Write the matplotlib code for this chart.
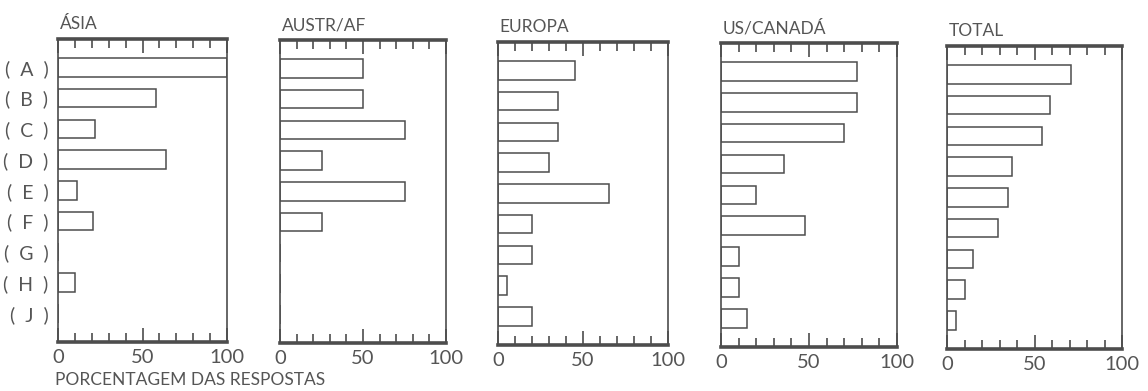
import matplotlib
matplotlib.use("Agg")
import matplotlib.pyplot as plt
from matplotlib.ticker import FixedLocator

# Share of responses per item (A..J), by region
categories = ["A", "B", "C", "D", "E", "F", "G", "H", "J"]
regions = ["ÁSIA", "AUSTR/AF", "EUROPA", "US/CANADÁ", "TOTAL"]

asia = [100, 58, 22, 64, 11, 21, 0, 10, 0]
austr_af = [50, 50, 75, 25, 75, 25, 0, 0, 0]
europa = [45, 35, 35, 30, 65, 20, 20, 5, 20]
us_canada = [77, 77, 70, 36, 20, 48, 10, 10, 15]
total = [71, 59, 54, 37, 35, 29, 15, 10, 5]

series = [asia, austr_af, europa, us_canada, total]

x_ticks = [0, 50, 100]
x_tick_labels = ["0", "50", "100"]
minor_ticks = [10, 20, 30, 40, 60, 70, 80, 90]

# panel boxes in pixels: left, right, top, bottom
W, H = 1148, 391
boxes = [
    (58, 227, 39, 342),
    (280, 446, 40, 343),
    (498, 668, 42, 345),
    (721, 897, 43, 347),
    (947, 1122, 46, 349),
]

INK = "#4d4d4d"
TEXT = "#555555"
plt.rcParams["font.family"] = ["Lato", "DejaVu Sans"]

fig = plt.figure(figsize=(W / 100, H / 100), dpi=100)
fig.patch.set_facecolor("white")

for i, (name, values, (l, r, t, b)) in enumerate(zip(regions, series, boxes)):
    ax = fig.add_axes([l / W, 1 - b / H, (r - l) / W, (b - t) / H])
    ypos = list(range(len(categories)))
    ax.barh(ypos, values, height=0.6, left=0, color="white",
            edgecolor=INK, linewidth=1.1)
    ax.set_xlim(0, 100)
    ax.set_ylim(len(categories) - 1 + 0.93, -0.92)

    for side in ["left", "right"]:
        ax.spines[side].set_linewidth(1.2)
        ax.spines[side].set_color(INK)
    for side in ["top", "bottom"]:
        ax.spines[side].set_linewidth(2.6)
        ax.spines[side].set_color(INK)

    ax.set_xticks(x_ticks)
    ax.set_xticklabels(x_tick_labels, fontsize=14.5, color=TEXT)
    ax.xaxis.set_minor_locator(FixedLocator(minor_ticks))
    ax.tick_params(axis="x", which="major", direction="in", top=True, bottom=True,
                   length=10, width=1.2, color=INK, pad=5)
    ax.tick_params(axis="x", which="minor", direction="in", top=True, bottom=True,
                   length=6.5, width=1.2, color=INK)

    if i == 0:
        ax.set_yticks(ypos)
        ax.set_yticklabels([f"(  {c}  )" for c in categories], fontsize=14, color=TEXT)
        ax.tick_params(axis="y", length=0, pad=7)
    else:
        ax.set_yticks([])

    ax.set_title(name, loc="left", fontsize=12.5, color=TEXT, pad=7, x=0.01)

fig.text(55 / W, 1 - 380 / H, "PORCENTAGEM DAS RESPOSTAS", fontsize=12.5,
         color=TEXT, ha="left", va="center")

fig.savefig("out.png", dpi=100, facecolor="white")
